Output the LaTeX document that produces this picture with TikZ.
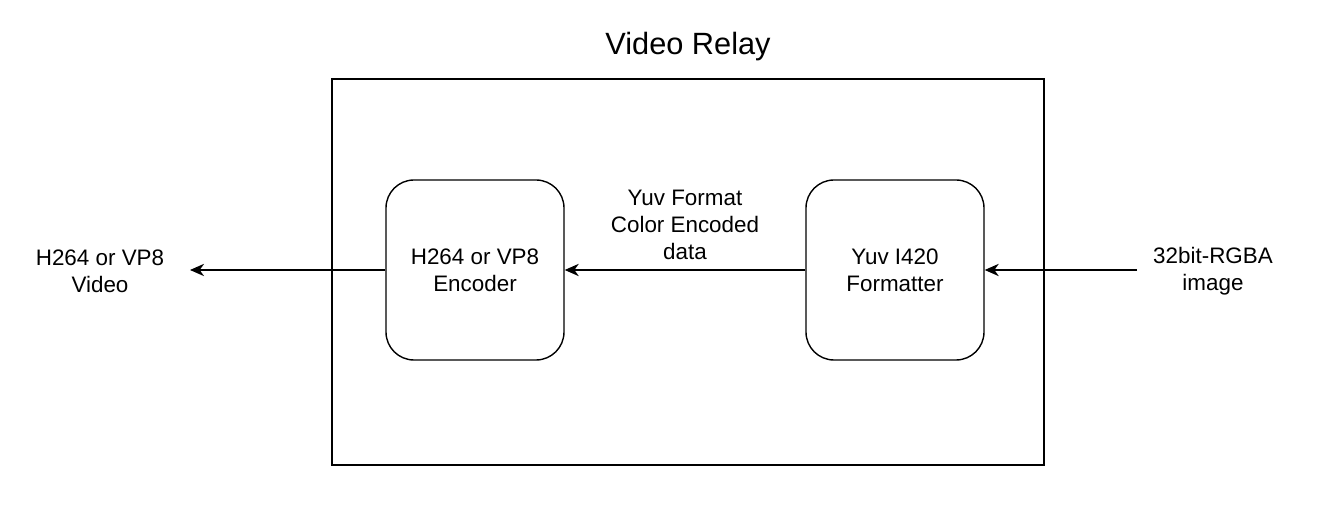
\documentclass[tikz,border=0pt]{standalone}
\usepackage{fontspec}
\setmainfont{Liberation Sans}
\usetikzlibrary{positioning,arrows.meta}

\begin{document}
\begin{tikzpicture}[
    every node/.style={font=\fontsize{12.75}{15.3}\selectfont, align=center},
    block/.style={draw, line width=0.8pt, rounded corners=0.56cm, minimum width=3.56cm, minimum height=3.6cm},
    flow/.style={line width=0.8pt, -{Stealth[length=8pt, width=7pt, inset=2.5pt]}}
]
    \useasboundingbox (0,0) rectangle (26.4,10.28);

    % Relay frame
    \draw[line width=0.8pt] (6.64,0.98) rectangle (20.88,8.7);
    \node (title) at (13.76,9.34) {\fontsize{17.5}{21}\selectfont Video Relay};

    % Stages
    \node[block] (enc) at (9.5,4.88) {H264 or VP8\\Encoder};
    \node[block] (fmt) at (17.9,4.88) {Yuv I420\\Formatter};

    % Outside ends
    \node (out) at (2.0,4.86) {H264 or VP8\\Video};
    \node (in) at (24.26,4.86) {32bit-RGBA\\image};
    \coordinate (outtip) at (3.8,4.88);
    \coordinate (instart) at (22.74,4.88);

    % Data path
    \draw[flow] (instart) -- (fmt.east);
    \draw[flow] (fmt.west) -- node[above=2pt] {Yuv Format\\Color Encoded\\data} (enc.east);
    \draw[flow] (enc.west) -- (outtip);
\end{tikzpicture}
\end{document}
